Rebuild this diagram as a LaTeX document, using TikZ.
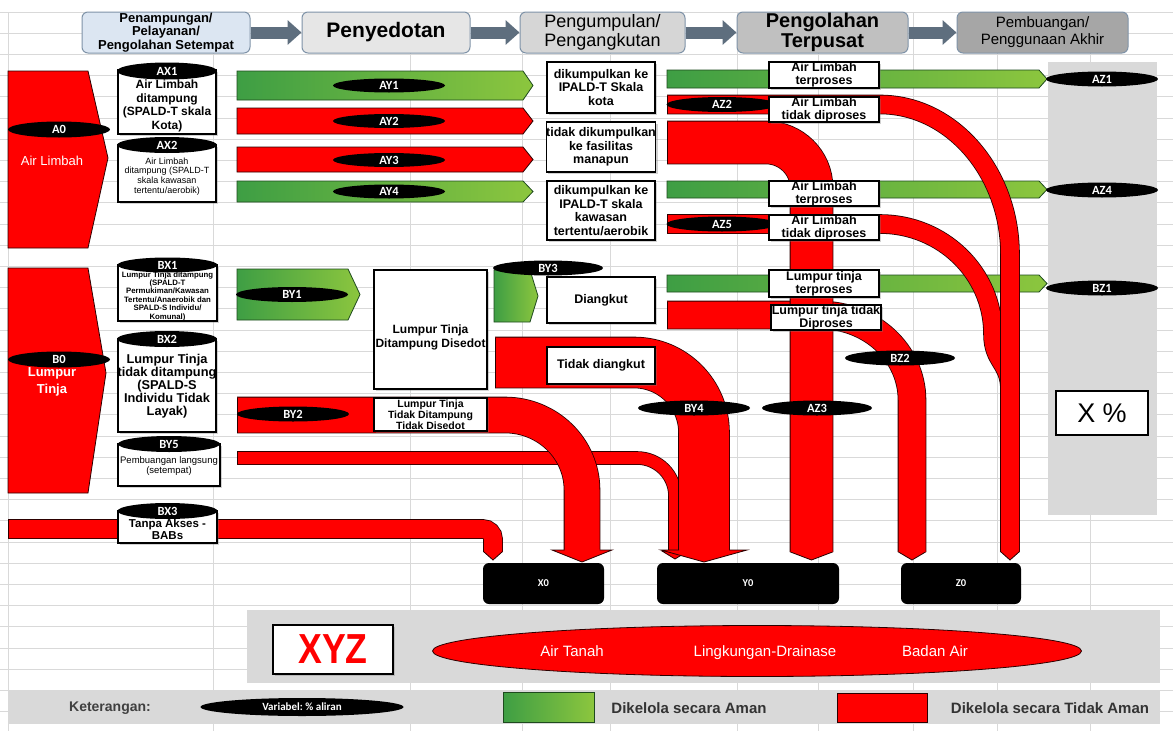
\documentclass[tikz,border=0pt]{standalone}
\usepackage{fontspec}
\usepackage{graphicx}
\setmainfont{Liberation Sans}
\newfontfamily\cf{Carlito}
\usetikzlibrary{shapes.geometric,shadows,arrows.meta}
\newcommand\fsz[2]{\fontsize{#1}{#2}\selectfont}
\definecolor{gridc}{HTML}{D9D9D9}
\definecolor{panel}{HTML}{D9D9D9}
\definecolor{rd}{HTML}{FF0000}
\definecolor{rdb}{HTML}{2B0000}
\definecolor{g1}{HTML}{3E9E44}
\definecolor{g2}{HTML}{8CC63E}
\definecolor{gb}{HTML}{1E4A1E}
\definecolor{harrow}{HTML}{5E6E7E}
\definecolor{hb1}{HTML}{DCE6F2}
\definecolor{hb2}{HTML}{E6E6E6}
\definecolor{hb3}{HTML}{D6D6D6}
\definecolor{hb4}{HTML}{C0C0C0}
\definecolor{hb5}{HTML}{A6A6A6}
\definecolor{hbd}{HTML}{7F93A8}
\tikzset{
 hbox/.style={draw=hbd, line width=1, rounded corners=6, inner sep=0, align=center},
 wbox/.style={draw=black, line width=1.2, fill=white, inner sep=0, align=center,
   drop shadow={opacity=0.35,shadow xshift=2pt,shadow yshift=-2pt}},
 tag/.style={ellipse, fill=black, inner sep=0, text=white, font=\cf\bfseries\fsz{12.5}{13}},
 rband/.style={draw=rdb, line width=0.8, double=rd, double distance=#1},
 rline/.style={draw=rdb, line width=0.8},
 gline/.style={draw=gb, line width=0.8},
 btxt/.style={align=center, inner sep=0},
 bbox/.style={fill=black, rounded corners=6, text=white, font=\cf\bfseries\fsz{10.5}{12}},
 envtxt/.style={text=white, font=\fsz{15}{17}, anchor=base},
}
% x, ystart, half width, half head width, y shoulder, y tip
\newcommand\rtip[6]{%
 \fill[rd] (#1-#3,#2-1) -- (#1-#3,#5) -- (#1-#4,#5) -- (#1,#6) -- (#1+#4,#5) -- (#1+#3,#5) -- (#1+#3,#2-1) -- cycle;
 \draw[rline] (#1-#3,#2) -- (#1-#3,#5) -- (#1-#4,#5) -- (#1,#6) -- (#1+#4,#5) -- (#1+#3,#5) -- (#1+#3,#2);}
\newcommand\rend[3]{\draw[rline] (#1,#2) -- (#1,#3);}
\begin{document}
\begin{tikzpicture}[x=1pt,y=-1pt]
\useasboundingbox (0,0) rectangle (1173,731);
\fill[white] (0,0) rectangle (1173,731);
% grid
\foreach \k in {0,...,33} \draw[gridc, line width=1] (0,12+21.2*\k) -- (1173,12+21.2*\k);
\foreach \x in {8,213,410,522,610,737,818,913,997,1090} \draw[gridc, line width=1] (\x,12) -- (\x,731);
% panels
\fill[panel] (1048,62) rectangle (1157,515);
\fill[panel] (247,610) rectangle (1160,683);
\fill[panel] (8,690) rectangle (1160,724);
% header
\node[hbox, fill=hb1, minimum width=168, minimum height=41, font=\bfseries\fsz{13}{13.2}] (H1) at (166,32.5) {Penampungan/\\Pelayanan/\\Pengolahan Setempat};
\node[hbox, fill=hb2, minimum width=168, minimum height=41, font=\bfseries\fsz{21}{24}] (H2) at (386,32.5) {Penyedotan};
\node[hbox, fill=hb3, minimum width=165, minimum height=41, font=\fsz{18}{19}] (H3) at (602.5,32.5) {Pengumpulan/\\Pengangkutan};
\node[hbox, fill=hb4, minimum width=171, minimum height=41, font=\bfseries\fsz{20}{20.5}] (H4) at (822.5,32.5) {Pengolahan\\Terpusat};
\node[hbox, fill=hb5, minimum width=171, minimum height=41, font=\fsz{15}{17}] (H5) at (1042.5,32.5) {Pembuangan/\\Penggunaan Akhir};
\foreach \a/\b in {H1/H2,H2/H3,H3/H4,H4/H5}
  \draw[harrow, line width=12, -{Triangle[width=24pt,length=14pt]}] (\a) -- (\b);
% A0 and B0
\filldraw[rline, fill=rd] (8,71) -- (88,71) -- (108,158) -- (88,248) -- (8,248) -- cycle;
\node[font=\fsz{13}{15}, text=white] (A0t) at (52,161) {Air Limbah};
\node[tag, minimum width=102, minimum height=16] (A0) at (59,129.5) {A0};
\filldraw[rline, fill=rd] (8,268) -- (88,268) -- (106,373) -- (88,493) -- (8,493) -- cycle;
\node[font=\bfseries\fsz{13}{17}, text=white, align=center] (B0t) at (52,382) {Lumpur\\Tinja};
\node[tag, minimum width=102, minimum height=16] (B0) at (59,359.5) {B0};
% BX3 band
\draw[rband=18] (8,529) -- (483,529) .. controls (488.5,529) and (493,533.5) .. (493,539) -- (493,552);
\rend{8}{520}{538}
\rtip{493}{552}{9}{9}{552}{560}
% left cylinders
\node[wbox, minimum width=98, minimum height=64] (AX1b) at (167,102) {};
\node[btxt, font=\bfseries\fsz{12}{13.5}] (AX1t) at (167,106) {Air Limbah\\ditampung\\(SPALD-T skala\\Kota)};
\node[tag, minimum width=100, minimum height=17] (AX1) at (167,71) {AX1};
\node[wbox, minimum width=98, minimum height=57] (AX2b) at (167,173.5) {};
\node[btxt, font=\fsz{9}{9.7}] (AX2t) at (167,176.5) {Air Limbah\\ditampung (SPALD-T\\skala kawasan\\tertentu/aerobik)};
\node[tag, minimum width=100, minimum height=16] (AX2) at (167,145) {AX2};
\node[wbox, minimum width=99, minimum height=56] (BX1b) at (167.5,293) {};
\node[btxt, font=\bfseries\fsz{7.8}{8.4}] (BX1t) at (167.5,296) {Lumpur Tinja ditampung\\(SPALD-T\\Permukiman/Kawasan\\Tertentu/Anaerobik dan\\SPALD-S Individu/\\Komunal)};
\node[tag, minimum width=100, minimum height=15] (BX1) at (167.5,265) {BX1};
\node[wbox, minimum width=98, minimum height=93] (BX2b) at (167,385.5) {};
\node[btxt, font=\bfseries\fsz{12.8}{13}] (BX2t) at (167,386) {Lumpur Tinja\\tidak ditampung\\(SPALD-S\\Individu Tidak\\Layak)};
\node[tag, minimum width=100, minimum height=16] (BX2) at (167,339) {BX2};
\node[wbox, minimum width=102, minimum height=42] (BY5b) at (169,465) {};
\node[btxt, font=\fsz{9.5}{10}] (BY5t) at (169,466) {Pembuangan langsung\\(setempat)};
\node[tag, minimum width=102, minimum height=16] (BY5) at (169,444) {BY5};
\node[wbox, minimum width=99, minimum height=32] (BX3b) at (167.5,527) {};
\node[btxt, font=\bfseries\fsz{11.5}{12}] (BX3t) at (167.5,529.5) {Tanpa Akses -\\BABs};
\node[tag, minimum width=100, minimum height=16] (BX3) at (167.5,511) {BX3};
% AY arrows
\shadedraw[gline, left color=g1, right color=g2] (237,71) -- (523,71) -- (533,85.5) -- (523,100) -- (237,100) -- cycle;
\filldraw[rline, fill=rd] (237,108) -- (523,108) -- (533,121) -- (523,134) -- (237,134) -- cycle;
\filldraw[rline, fill=rd] (237,147) -- (523,147) -- (533,159.5) -- (523,172) -- (237,172) -- cycle;
\shadedraw[gline, left color=g1, right color=g2] (237,181) -- (523,181) -- (533,191.5) -- (523,202) -- (237,202) -- cycle;
\node[tag, minimum width=112, minimum height=14] (AY1) at (389,85.5) {AY1};
\node[tag, minimum width=112, minimum height=14] (AY2) at (389,121) {AY2};
\node[tag, minimum width=112, minimum height=14] (AY3) at (389,160) {AY3};
\node[tag, minimum width=112, minimum height=14] (AY4) at (389,191.5) {AY4};
% collection boxes
\node[wbox, minimum width=108, minimum height=51, font=\bfseries\fsz{12.5}{13.5}] (C1) at (601,87.5) {dikumpulkan ke\\IPALD-T Skala\\kota};
\node[wbox, minimum width=108, minimum height=50, font=\bfseries\fsz{12.5}{13.5}] (C2) at (601,147) {tidak dikumpulkan\\ke fasilitas\\manapun};
\node[wbox, minimum width=108, minimum height=59, font=\bfseries\fsz{12.5}{13.5}] (C3) at (601,210.5) {dikumpulkan ke\\IPALD-T skala\\kawasan\\tertentu/aerobik};
% BY1, BY3
\shadedraw[gline, left color=g1, right color=g2] (237,269) -- (348,269) -- (360,294.5) -- (348,320) -- (237,320) -- cycle;
\node[tag, minimum width=112, minimum height=15] (BY1) at (292,294.5) {BY1};
\node[wbox, minimum width=113, minimum height=119] (D1) at (430.5,329.5) {};
\node[btxt, font=\bfseries\fsz{12}{14}] (D1t) at (430.5,337) {Lumpur Tinja\\Ditampung Disedot};
\shadedraw[gline, left color=g1, right color=g2] (494,270) -- (530,270) -- (538,296) -- (530,322) -- (494,322) -- cycle;
\node[wbox, minimum width=108, minimum height=46, font=\bfseries\fsz{12.5}{14}] (D2) at (601,300) {Diangkut};
\node[tag, minimum width=110, minimum height=15] (BY3) at (548,268) {BY3};
% bottom-left bands
\draw[rband=12] (237,458) -- (637,458) .. controls (658,458) and (675,475) .. (675,496) -- (675,551);
\rend{237}{452}{464}
\rtip{675}{551}{6}{13}{551}{559}
\draw[rband=35] (237,415) -- (505,415) .. controls (547.5,415) and (582,448.6) .. (582,490) -- (582,550);
\rend{237}{397.5}{432.5}
\rtip{582}{550}{17.5}{30}{550}{562}
\node[wbox, minimum width=113, minimum height=33, font=\bfseries\fsz{10.5}{11}] (D3) at (430.5,414.5) {Lumpur Tinja\\Tidak Ditampung\\Tidak Disedot};
\node[tag, minimum width=112, minimum height=15] (BY2) at (293,414) {BY2};
\draw[rband=50] (495,362.5) -- (634,362.5) .. controls (672.6,362.5) and (704,393.9) .. (704,432.5) -- (704,550);
\rend{495}{337.5}{387.5}
\rtip{704}{550}{25}{43}{550}{562}
\node[wbox, minimum width=108, minimum height=37, font=\bfseries\fsz{12.5}{14}] (D4) at (601,365.5) {Tidak diangkut};
% right green bands
\shadedraw[gline, left color=g1, right color=g2] (667,70) -- (1039,70) -- (1047,79) -- (1039,88) -- (667,88) -- cycle;
\shadedraw[gline, left color=g1, right color=g2] (667,181) -- (1039,181) -- (1047,189.5) -- (1039,198) -- (667,198) -- cycle;
\shadedraw[gline, left color=g1, right color=g2] (667,275) -- (1039,275) -- (1047,283.5) -- (1039,292) -- (667,292) -- cycle;
% right red bands
\draw[rband=18] (667,224) -- (880,224) .. controls (942.4,224) and (993,273) .. (993,334) .. controls (993,362) and (1010,362) .. (1010,390);
\rend{667}{215}{233}
\draw[rband=18] (667,104.5) -- (880,104.5) .. controls (951.2,104.5) and (1010,171.7) .. (1010,254.5) -- (1010,552);
\rend{667}{95.5}{113.5}
\rtip{1010}{552}{9}{9}{552}{560}
\draw[rband=27] (667,315) -- (820,315) .. controls (870.8,315) and (912,353) .. (912,400) -- (912,552);
\rend{667}{301.5}{328.5}
\rtip{912}{552}{13.5}{13.5}{552}{560}
\draw[rband=42] (667,142.5) -- (766,142.5) .. controls (790.9,142.5) and (811.5,162.6) .. (811.5,187.5) -- (811.5,552);
\rend{667}{121.5}{163.5}
\rtip{811.5}{552}{21}{21}{552}{560}
\node[tag, minimum width=111, minimum height=15] (AZ2) at (722,104.5) {AZ2};
\node[tag, minimum width=111, minimum height=15] (AZ5) at (722,224) {AZ5};
% labels
\node[wbox, minimum width=110, minimum height=26, font=\bfseries\fsz{12.5}{13}] (L1) at (824,75) {Air Limbah\\terproses};
\node[wbox, minimum width=110, minimum height=25, font=\bfseries\fsz{12.5}{13}] (L2) at (824,109.5) {Air Limbah\\tidak diproses};
\node[wbox, minimum width=110, minimum height=25, font=\bfseries\fsz{12.5}{13}] (L3) at (824,193.5) {Air Limbah\\terproses};
\node[wbox, minimum width=110, minimum height=25, font=\bfseries\fsz{12.5}{13}] (L4) at (824,227.5) {Air Limbah\\tidak diproses};
\node[wbox, minimum width=110, minimum height=27, font=\bfseries\fsz{12.5}{13}] (L5) at (824,283.5) {Lumpur tinja\\terproses};
\node[wbox, minimum width=110, minimum height=25, font=\bfseries\fsz{12.5}{13}] (L6) at (826,317.5) {Lumpur tinja tidak\\Diproses};
% right tags
\node[tag, minimum width=112, minimum height=15] (AZ1) at (1102,79) {AZ1};
\node[tag, minimum width=112, minimum height=15] (AZ4) at (1102,190) {AZ4};
\node[tag, minimum width=112, minimum height=15] (BZ1) at (1102,288) {BZ1};
\node[tag, minimum width=110, minimum height=15] (BZ2) at (900,358) {BZ2};
\node[tag, minimum width=110, minimum height=15] (AZ3) at (817,408) {AZ3};
\node[tag, minimum width=112, minimum height=15] (BY4) at (694,408) {BY4};
\node[draw=black, line width=2, fill=white, minimum width=92, minimum height=44, font=\fsz{27}{30}] (XP) at (1102,413) {X \%};
% end boxes
\node[bbox, minimum width=121, minimum height=41] (X0) at (543.5,583.5) {X0};
\node[bbox, minimum width=182, minimum height=41] (Y0) at (748,583.5) {Y0};
\node[bbox, minimum width=120, minimum height=41] (Z0) at (961,583.5) {Z0};
% bottom
\node[draw=black, line width=1.5, fill=white, minimum width=120, minimum height=49, drop shadow={opacity=0.35,shadow xshift=2pt,shadow yshift=-2pt}] (XYZ) at (333,649.5) {\textcolor{rd}{\scalebox{0.85}[1]{\bfseries\fsz{42}{44}XYZ}}};
\node[ellipse, draw=rdb, line width=0.8, fill=rd, minimum width=649, minimum height=51] (ENV) at (757,651) {};
\node[envtxt] (E1) at (572,656.5) {Air Tanah};
\node[envtxt] (E2) at (765,656.5) {Lingkungan-Drainase};
\node[envtxt] (E3) at (935,656.5) {Badan Air};
% legend
\node[font=\bfseries\fsz{14}{16}, text=black!75] (KET) at (110,708) {Keterangan:};
\node[tag, minimum width=203, minimum height=18, font=\cf\bfseries\fsz{11}{12}] (VAR) at (302,707) {Variabel:\ \% aliran};
\shadedraw[gline, left color=g1, right color=g2] (503,692) rectangle (594,722);
\node[font=\bfseries\fsz{15}{17}, text=black!80] (LG) at (689,708) {Dikelola secara Aman};
\filldraw[rline, fill=rd] (837,693) rectangle (927,722);
\node[font=\bfseries\fsz{15}{17}, text=black!80] (LR) at (1050,708) {Dikelola secara Tidak Aman};
\end{tikzpicture}
\end{document}
